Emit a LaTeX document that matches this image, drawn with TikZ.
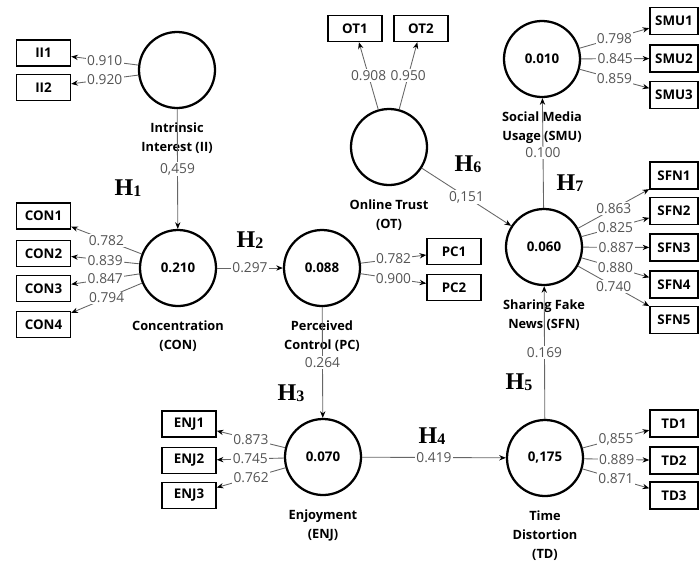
\documentclass[tikz,border=0pt]{standalone}
\usepackage{fontspec}
\setmainfont{Open Sans}
\newfontfamily\hfont{Liberation Serif}
\usetikzlibrary{arrows.meta}
\usetikzlibrary{positioning}
\definecolor{loadgray}{gray}{0.33}
\tikzset{
    lv/.style={circle,draw,line width=1.7pt,minimum size=57pt,inner sep=0pt,font=\bfseries\fontsize{10}{12}\selectfont},
    mv/.style={draw,line width=1.1pt,minimum width=40.5pt,minimum height=19.5pt,inner sep=0pt,font=\bfseries\fontsize{10}{12}\selectfont},
    mvr/.style={mv,minimum width=36pt,minimum height=20pt},
    ld/.style={fill=white,inner sep=1pt,text=loadgray,font=\fontsize{10.3}{12}\selectfont},
    lvname/.style={align=center,font=\bfseries\fontsize{9.6}{14.2}\selectfont,inner sep=0pt},
    lnk/.style={draw=black!60,line width=0.65pt,-{Stealth[length=5pt,width=4pt,black]}}
}
\newcommand{\hyp}[1]{{\hfont\bfseries\fontsize{18}{18}\selectfont H\raisebox{-1pt}{\fontsize{12}{12}\selectfont #1}}}
\begin{document}
\begin{tikzpicture}[x=0.75pt,y=-0.75pt]
\useasboundingbox (0,0) rectangle (699,562);
% latent variables
\foreach \x/\y/\p/\val in {177/70/II/{}, 389/147/OT/{}, 542/59/SMU/{0.010}, 178/268/CON/{0.210}, 322/268/PC/{0.088}, 544/247/SFN/{0.060}, 323/457/ENJ/{0.070}, 545/458/TD/{0,175}}{
    \node[lv] (\p) at (\x,\y) {\val};
}
\foreach \p/\labeltext in {II/{Intrinsic\\Interest (II)}, OT/{Online Trust\\(OT)}, SMU/{Social Media\\Usage (SMU)}, CON/{Concentration\\(CON)}, PC/{Perceived\\Control (PC)}, SFN/{Sharing Fake\\News (SFN)}, ENJ/{Enjoyment\\(ENJ)}, TD/{Time\\Distortion\\(TD)}}{
    \node[lvname,below=10pt of \p] (\p-name) {\labeltext};
}
% indicators
\foreach \x/\y/\p in {43.5/53/II1, 43.5/87.5/II2, 355/28.5/OT1, 421/28.5/OT2, 43.5/216/CON1, 43.5/253.5/CON2, 43.5/288.5/CON3, 43.5/324.5/CON4, 454/251.5/PC1, 454/287.5/PC2, 189/424/ENJ1, 189/460.5/ENJ2, 189/495.5/ENJ3}{
    \node[mv] (\p) at (\x,\y) {\p};
}
\foreach \y/\p in {21/SMU1, 58.5/SMU2, 95/SMU3, 175.5/SFN1, 211/SFN2, 247.5/SFN3, 284.5/SFN4, 320/SFN5, 423.5/TD1, 460.5/TD2, 495.5/TD3}{
    \node[mvr] (\p) at (674,\y) {\p};
}
% outer loadings
\foreach \a/\b/\v in {II/II1/0.910, II/II2/0.920, OT/OT1/0.908, OT/OT2/0.950, SMU/SMU1/0.798, SMU/SMU2/0.845, SMU/SMU3/0.859, CON/CON1/0.782, CON/CON2/0.839, CON/CON3/0.847, CON/CON4/0.794, PC/PC1/0.782, PC/PC2/0.900, SFN/SFN1/0.863, SFN/SFN2/0.825, SFN/SFN3/0.887, SFN/SFN4/0.880, SFN/SFN5/0.740, ENJ/ENJ1/0.873, ENJ/ENJ2/0.745, ENJ/ENJ3/0.762, TD/TD1/{0,855}, TD/TD2/0.889, TD/TD3/0.871}{
    \draw[lnk] (\a) -- node[ld] {\v} (\b);
}
% path coefficients
\foreach \a/\b/\v in {II/CON/{0,459}, CON/PC/0.297, PC/ENJ/0.264, ENJ/TD/0.419, TD/SFN/0.169, OT/SFN/{0,151}, SFN/SMU/0.100}{
    \draw[lnk] (\a) -- node[ld] {\v} (\b);
}
\foreach \x/\y/\k in {128/188/1, 250/240/2, 291/393/3, 432/436/4, 519/382/5, 468/164/6, 570/183/7}{
    \node (H\k) at (\x,\y) {\hyp{\k}};
}
\end{tikzpicture}
\end{document}
